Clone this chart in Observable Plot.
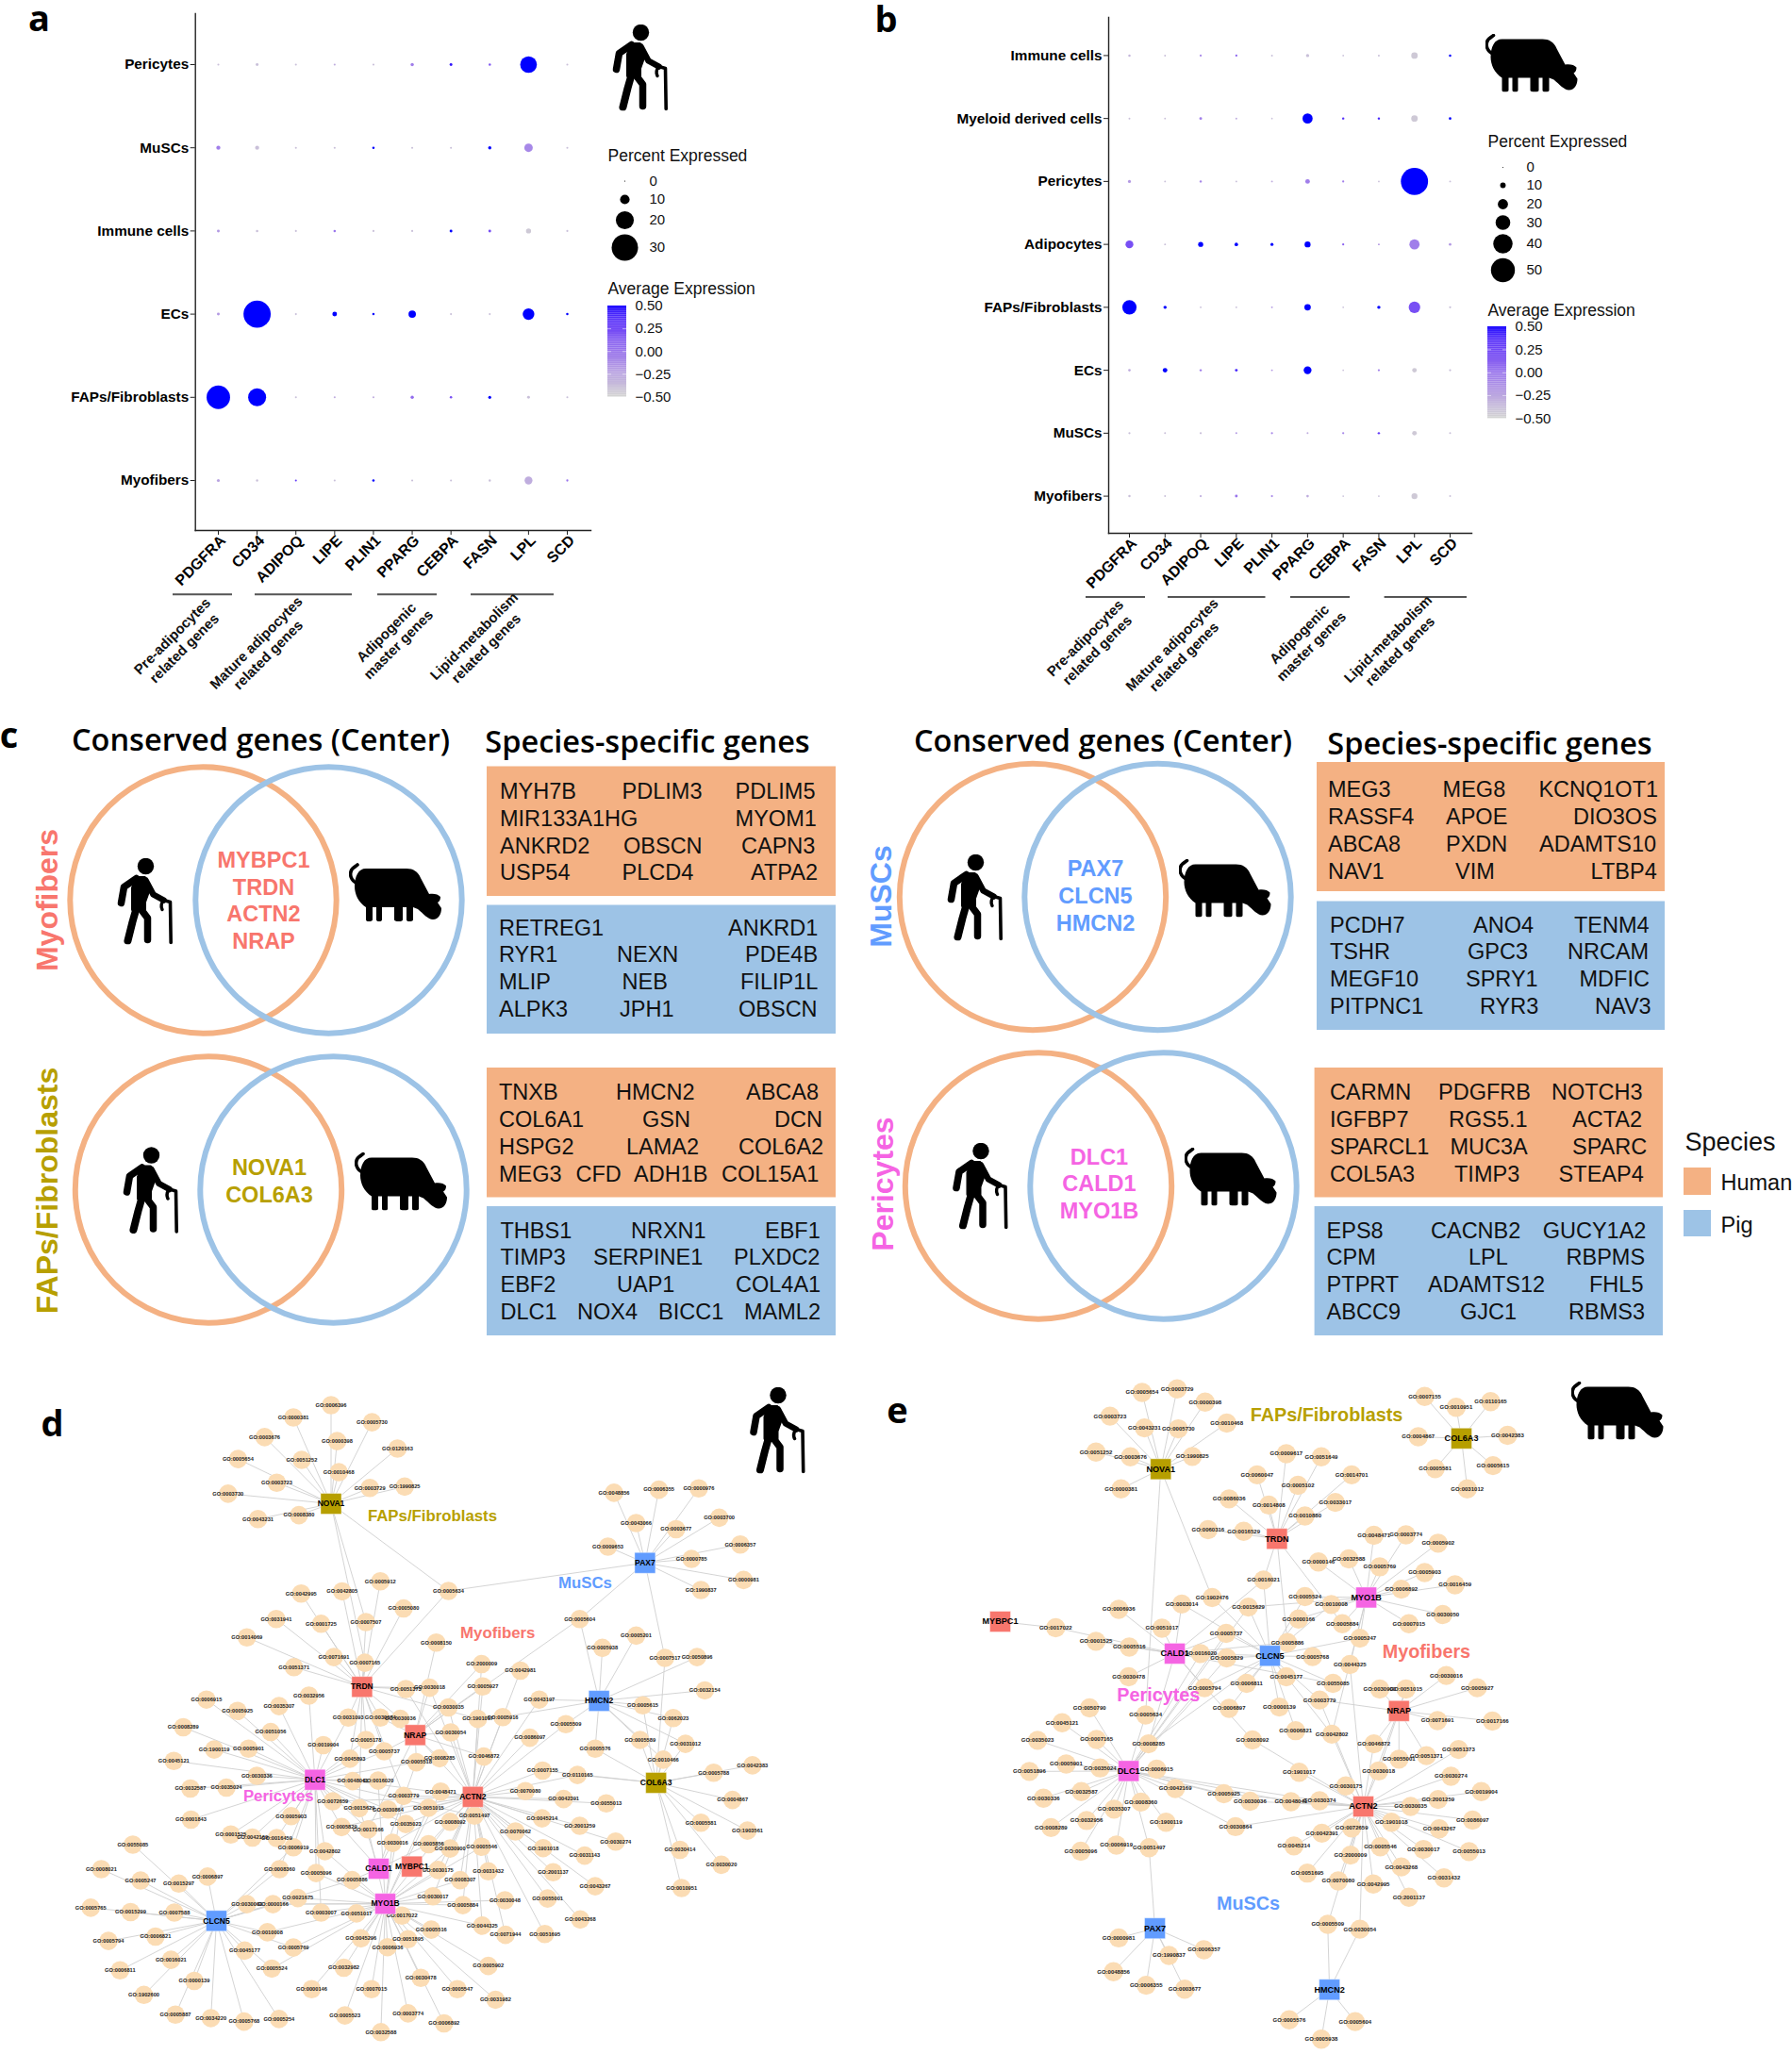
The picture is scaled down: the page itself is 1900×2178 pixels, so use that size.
<!DOCTYPE html>
<html><head><meta charset="utf-8">
<script src="https://cdn.jsdelivr.net/npm/d3@7"></script>
<script src="https://cdn.jsdelivr.net/npm/@observablehq/plot@0.6"></script>
<style>body{margin:0;background:#fff}#page{position:relative;width:1900px;height:2178px;overflow:hidden}</style>
</head><body><div id="page"></div>
<script>
// ---------- panel a / b dot plot data ----------
const genes=["PDGFRA","CD34","ADIPOQ","LIPE","PLIN1","PPARG","CEBPA","FASN","LPL","SCD"];
const cellsA=["Pericytes","MuSCs","Immune cells","ECs","FAPs/Fibroblasts","Myofibers"];
const pctA=[
[1,2,1,1,1,2.5,2,1.5,18.5,1],
[3.5,3.5,1,1,1.5,1,1,2.5,8.7,1],
[2,1.5,1,1.5,1,1,2,2,4.7,1],
[2,31,1,4.2,1.5,7.5,1,1,12.5,1.5],
[26.5,20,1,1,1,2.5,1.5,2.2,2,1],
[2.2,1.3,1,1,1.5,1,1,1.3,8,1.2]];
const exprA=[
[-.4,-.4,-.4,-.3,-.4,-.05,.45,.15,.5,-.4],
[-.05,-.4,-.4,-.4,.5,-.4,-.4,.5,-.1,-.4],
[-.2,-.4,-.4,0,-.4,-.4,.5,.2,-.45,-.4],
[-.2,.5,-.4,.5,.5,.5,-.4,-.4,.5,.5],
[.5,.5,-.4,-.3,-.3,.05,.2,.5,-.4,-.4],
[-.25,-.4,.3,-.4,.5,-.4,-.4,-.4,-.3,0]];
const cellsB=["Immune cells","Myeloid derived cells","Pericytes","Adipocytes","FAPs/Fibroblasts","ECs","MuSCs","Myofibers"];
const pctB=[
[3,2,2.5,2.5,2,5,1.5,2,12,3],
[2,1.8,4,2,1.5,20,3,3,12,3.5],
[4.5,1.8,3,1.8,2,8,2.5,1.5,57,2],
[15,2,9,5.5,4.5,11,2.5,2,20,3.5],
[29,5,2,2,2,12,1.5,5,23,2.5],
[3.5,8,3,4,2,15,1.5,2.5,8,2.5],
[2.5,2,2.5,2,2.5,2,2.5,3,8,2],
[3,2,2.5,4,2.5,3.5,1.5,1.8,11,2]];
const exprB=[
[-.35,-.4,-.1,.1,-.4,-.4,-.4,-.4,-.45,.5],
[-.4,-.4,-.05,-.3,-.4,.5,.35,.4,-.45,.5],
[-.2,-.4,-.1,-.4,-.3,-.05,-.05,-.4,.5,-.4],
[.2,-.4,.5,.5,.5,.5,.1,-.2,-.05,-.2],
[.5,.5,-.4,-.4,-.2,.5,-.4,.5,.2,-.4],
[-.3,.5,-.05,.4,-.2,.5,-.4,-.05,-.45,-.4],
[-.4,-.4,-.4,-.2,-.1,-.3,-.1,.3,-.45,-.4],
[-.4,-.4,-.3,0,-.1,-.3,-.4,-.4,-.45,-.4]];
const legendPctA=[0,10,20,30];
const legendPctB=[0,10,20,30,40,50];
const legendExpr=[-.5,-.25,0,.25,.5];
const groupNames=["Pre-adipocytes\nrelated genes","Mature adipocytes\nrelated genes","Adipogenic\nmaster genes","Lipid-metabolism\nrelated genes"];

// ---------- panel c gene lists ----------
const myoHuman=[["MYH7B","PDLIM3","PDLIM5"],["MIR133A1HG","MYOM1"],["ANKRD2","OBSCN","CAPN3"],["USP54","PLCD4","ATPA2"]];
const myoPig=[["RETREG1","ANKRD1"],["RYR1","NEXN","PDE4B"],["MLIP","NEB","FILIP1L"],["ALPK3","JPH1","OBSCN"]];
const fapHuman=[["TNXB","HMCN2","ABCA8"],["COL6A1","GSN","DCN"],["HSPG2","LAMA2","COL6A2"],["MEG3","CFD","ADH1B","COL15A1"]];
const fapPig=[["THBS1","NRXN1","EBF1"],["TIMP3","SERPINE1","PLXDC2"],["EBF2","UAP1","COL4A1"],["DLC1","NOX4","BICC1","MAML2"]];
const muscHuman=[["MEG3","MEG8","KCNQ1OT1"],["RASSF4","APOE","DIO3OS"],["ABCA8","PXDN","ADAMTS10"],["NAV1","VIM","LTBP4"]];
const muscPig=[["PCDH7","ANO4","TENM4"],["TSHR","GPC3","NRCAM"],["MEGF10","SPRY1","MDFIC"],["PITPNC1","RYR3","NAV3"]];
const periHuman=[["CARMN","PDGFRB","NOTCH3"],["IGFBP7","RGS5.1","ACTA2"],["SPARCL1","MUC3A","SPARC"],["COL5A3","TIMP3","STEAP4"]];
const periPig=[["EPS8","CACNB2","GUCY1A2"],["CPM","LPL","RBPMS"],["PTPRT","ADAMTS12","FHL5"],["ABCC9","GJC1","RBMS3"]];
const conservedMyo=["MYBPC1","TRDN","ACTN2","NRAP"];
const conservedFap=["NOVA1","COL6A3"];
const conservedMusc=["PAX7","CLCN5","HMCN2"];
const conservedPeri=["DLC1","CALD1","MYO1B"];

// ---------- panel d / e networks: hub name, layout x, layout y ----------
const hubKeys={N:"NOVA1",P:"PAX7",T:"TRDN",R:"NRAP",H:"HMCN2",C:"COL6A3",A:"ACTN2",D:"DLC1",K:"CALD1",M:"MYBPC1",Y:"MYO1B",L:"CLCN5"};
const hubGroup={NOVA1:"FAPs/Fibroblasts",COL6A3:"FAPs/Fibroblasts",PAX7:"MuSCs",CLCN5:"MuSCs",HMCN2:"MuSCs",TRDN:"Myofibers",NRAP:"Myofibers",ACTN2:"Myofibers",MYBPC1:"Myofibers",DLC1:"Pericytes",CALD1:"Pericytes",MYO1B:"Pericytes"};
const netDHubs=[["NOVA1",597,310],["PAX7",1164,445],["TRDN",653,728],["HMCN2",1081,760],["NRAP",749,838],["DLC1",568,940],["COL6A3",1184,947],["ACTN2",853,979],["CALD1",683,1143],["MYBPC1",743,1138],["MYO1B",695,1223],["CLCN5",390,1262]];
const netDGroups=[["FAPs/Fibroblasts",780,339],["MuSCs",1056,491],["Myofibers",898,606],["Pericytes",502,978]];
const netDNodes=[
["GO:0006396",597,85,"N"],["GO:0000381",529,113,"N"],["GO:0005730",671,124,"N"],["GO:0003676",477,158,"N"],["GO:0000398",608,167,"N"],["GO:0120163",717,184,"N"],["GO:0005654",429,208,"N"],["GO:0051252",544,210,"N"],["GO:0010468",611,238,"N"],["GO:0003723",499,262,"N"],["GO:0003729",667,274,"N"],["GO:1990825",730,271,"N"],["GO:0003730",411,287,"N"],["GO:0008380",539,336,"N"],["GO:0043231",465,345,"N"],
["GO:0048856",1108,285,"P"],["GO:0006355",1189,278,"P"],["GO:0000976",1261,275,"P"],["GO:0003700",1298,342,"P"],["GO:0043066",1148,354,"P"],["GO:0003677",1220,368,"P"],["GO:0006357",1336,403,"P"],["GO:0009653",1097,408,"P"],["GO:0000785",1248,436,"P"],["GO:0000981",1342,484,"P"],["GO:1990837",1265,507,"P"],["GO:0005634",809,509,"NPT"],
["GO:0005912",686,487,"T"],["GO:0042995",543,515,"T"],["GO:0042805",617,510,"T"],["GO:0005080",728,549,"T"],["GO:0031941",498,573,"T"],["GO:0001725",579,584,"T"],["GO:0007507",660,580,"TN"],["GO:0014069",445,615,"T"],["GO:0071691",602,660,"T"],["GO:0007165",658,673,"TN"],["GO:0051371",530,683,"T"],["GO:0008150",787,627,"R"],
["GO:2000009",869,676,"AR"],["GO:0042981",939,691,"A"],["GO:0005604",1046,573,"PHR"],["GO:0005201",1148,611,"H"],["GO:0005938",1087,639,"H"],["GO:0007517",1200,662,"PC"],["GO:0050896",1258,660,"H"],["GO:0032154",1272,736,"H"],["GO:0005615",1160,770,"HC"],["GO:0062023",1215,799,"HC"],["GO:0005589",1155,849,"HC"],["GO:0031012",1237,858,"HC"],["GO:0010466",1197,894,"HC"],["GO:0005576",1074,869,"HC"],
["GO:0005788",1288,924,"C"],["GO:0042383",1358,907,"C"],["GO:0004867",1322,986,"C"],["GO:0005581",1265,1038,"C"],["GO:1903561",1349,1056,"C"],["GO:0030414",1227,1100,"C"],["GO:0030020",1302,1134,"C"],["GO:0010951",1230,1187,"C"],["GO:0055013",1094,994,"A"],["GO:0042391",1017,984,"A"],["GO:0070080",948,966,"A"],["GO:0110165",1042,929,"AC"],["GO:0007155",979,919,"AC"],["GO:0086097",956,844,"A"],["GO:0005509",1021,813,"HA"],["GO:0005916",907,797,"HA"],["GO:1901017",862,801,"AT"],["GO:0043197",973,757,"AH"],["GO:0005927",871,727,"AR"],["GO:0030018",775,730,"ART"],["GO:0051373",732,733,"TA"],["GO:0030035",809,775,"AR"],["GO:0030054",813,832,"RA"],["GO:0046872",873,887,"AR"],["GO:0008285",793,891,"RD"],
["GO:0031093",628,798,"TD"],["GO:0030674",686,798,"TR"],["GO:0030036",722,801,"TRA"],["GO:0006915",372,757,"D"],["GO:0005925",428,783,"D"],["GO:0035307",503,772,"D"],["GO:0032956",557,748,"D"],["GO:0008289",330,820,"D"],["GO:0051056",488,831,"D"],["GO:0005178",660,849,"TD"],["GO:0019904",583,861,"D"],["GO:1900119",386,871,"D"],["GO:0005901",448,869,"D"],["GO:0045121",313,897,"D"],["GO:0045893",631,892,"DT"],["GO:0005737",693,875,"DTR"],["GO:0005518",751,900,"RK"],["GO:0030336",463,931,"D"],["GO:0048041",636,943,"DA"],["GO:0016020",682,942,"DY"],["GO:0032587",343,960,"D"],["GO:0035024",408,958,"D"],["GO:0003779",728,977,"ATY"],["GO:0048471",795,967,"AY"],
["GO:0072659",600,989,"DA"],["GO:0015629",648,1005,"DTK"],["GO:0030864",700,1008,"DA"],["GO:0051015",773,1004,"AY"],["GO:0051497",856,1022,"AD"],["GO:0001843",344,1031,"D"],["GO:0005903",525,1023,"D"],["GO:0035023",732,1041,"AD"],["GO:0008092",812,1036,"AY"],["GO:0045214",978,1028,"A"],["GO:2001259",1046,1045,"A"],["GO:0070062",930,1058,"A"],["GO:0005829",616,1048,"DKA"],["GO:0017166",664,1053,"DYR"],["GO:0001525",416,1065,"D"],["GO:0042169",455,1072,"D"],["GO:0016459",499,1073,"D"],["GO:0030016",708,1084,"AYK"],["GO:0005856",773,1087,"AK"],["GO:0030900",812,1097,"AY"],["GO:0005546",869,1093,"AY"],["GO:0006919",529,1094,"DL"],["GO:0042802",586,1103,"DY"],["GO:0030274",1111,1081,"A"],["GO:1901018",980,1096,"A"],["GO:0031143",1055,1113,"A"],["GO:0008360",504,1144,"DL"],["GO:0005096",570,1153,"DY"],["GO:0030175",790,1146,"AY"],["GO:0031432",881,1149,"A"],["GO:2001137",998,1151,"A"],["GO:0008307",830,1169,"AY"],["GO:0005886",635,1169,"YKL"],["GO:0043267",1074,1183,"A"],
["GO:0055085",239,1088,"L"],["GO:0006897",374,1161,"L"],["GO:0008021",182,1144,"L"],["GO:0005247",253,1170,"L"],["GO:0015297",322,1177,"L"],["GO:0030017",781,1206,"AY"],["GO:0021675",537,1210,"LY"],["GO:0005884",835,1226,"YA"],["GO:0030048",911,1215,"Y"],["GO:0055001",988,1211,"A"],["GO:0030003",445,1224,"LY"],["GO:0000166",492,1224,"LY"],["GO:0005765",163,1232,"L"],["GO:0015299",235,1242,"L"],["GO:0007588",314,1243,"L"],["GO:0003007",579,1243,"DY"],["GO:0051017",643,1245,"Y"],["GO:0017022",725,1250,"Y"],["GO:0043268",1047,1259,"A"],["GO:0044325",870,1273,"AY"],["GO:0005516",778,1282,"Y"],["GO:0010008",482,1288,"LY"],["GO:0006821",280,1298,"L"],["GO:0005794",195,1308,"L"],["GO:0071944",912,1294,"A"],["GO:0051695",983,1292,"A"],["GO:0045296",651,1302,"Y"],["GO:0051895",736,1304,"Y"],["GO:0006936",699,1322,"Y"],["GO:0045177",441,1330,"L"],["GO:0005769",529,1323,"LY"],["GO:0016021",308,1351,"L"],["GO:0005524",490,1371,"LY"],["GO:0005902",881,1365,"Y"],["GO:0032982",620,1369,"Y"],["GO:0006811",216,1375,"L"],["GO:0000139",350,1399,"L"],["GO:0030478",759,1392,"Y"],["GO:0000146",562,1418,"Y"],["GO:0007015",670,1418,"Y"],["GO:0005547",825,1418,"Y"],["GO:1902600",259,1431,"L"],["GO:0031982",894,1442,"Y"],["GO:0005887",316,1476,"L"],["GO:0034220",380,1484,"L"],["GO:0005768",440,1492,"L"],["GO:0005254",503,1486,"L"],["GO:0005523",622,1478,"Y"],["GO:0003774",736,1473,"Y"],["GO:0006892",801,1496,"Y"],["GO:0032588",687,1516,"Y"]];

const netEHubs=[["NOVA1",485,231],["COL6A3",1000,161],["TRDN",684,390],["MYO1B",837,524],["MYBPC1",210,579],["CALD1",509,652],["CLCN5",672,657],["NRAP",893,783],["DLC1",430,920],["ACTN2",832,1001],["PAX7",475,1279],["HMCN2",774,1419]];
const netEGroups=[["FAPs/Fibroblasts",769,109],["Myofibers",940,649],["Pericytes",481,748],["MuSCs",635,1222]];
const netENodes=[
["GO:0005654",453,56,"N"],["GO:0003729",513,48,"N"],["GO:0000398",561,78,"N"],["GO:0003723",398,110,"N"],["GO:0010468",598,126,"N"],["GO:0043231",457,137,"N"],["GO:0005730",515,139,"N"],["GO:0051252",374,192,"N"],["GO:0003676",433,203,"N"],["GO:1990825",539,202,"N"],["GO:0000381",417,276,"N"],
["GO:0007155",937,65,"C"],["GO:0110165",1050,77,"C"],["GO:0010951",991,90,"C"],["GO:0004867",926,157,"C"],["GO:0042383",1079,154,"C"],["GO:0005581",955,230,"C"],["GO:0005615",1054,223,"C"],["GO:0031012",1010,276,"C"],
["GO:0009617",700,196,"T"],["GO:0051649",760,203,"T"],["GO:0060047",650,244,"T"],["GO:0014701",812,244,"T"],["GO:0005102",720,268,"T"],["GO:0086036",602,299,"T"],["GO:0014808",670,313,"T"],["GO:0033017",784,307,"T"],["GO:0010880",732,338,"T"],["GO:0060316",566,369,"T"],["GO:0016529",627,373,"T"],
["GO:0048471",850,382,"Y"],["GO:0003774",905,381,"Y"],["GO:0005902",960,400,"Y"],["GO:0000146",755,443,"Y"],["GO:0032588",807,436,"Y"],["GO:0005769",860,454,"Y"],["GO:0005903",937,467,"Y"],["GO:0016459",989,495,"Y"],["GO:0006892",897,505,"Y"],["GO:0030050",968,563,"Y"],["GO:0007015",910,584,"Y"],["GO:0005524",732,522,"YL"],["GO:0010008",777,540,"YL"],["GO:0016021",661,484,"TKL"],
["GO:0017022",305,593,"MK"],["GO:0001525",374,624,"K"],["GO:0005516",431,637,"K"],["GO:0006936",413,551,"K"],["GO:0051017",487,594,"K"],["GO:0003014",521,539,"LK"],["GO:1902476",573,524,"NL"],["GO:0015629",635,546,"LDY"],["GO:0005737",597,606,"LKD"],["GO:0016020",553,652,"LKD"],["GO:0005829",598,662,"LKD"],["GO:0030478",430,705,"K"],["GO:0005794",560,730,"LKD"],["GO:0000166",721,573,"YL"],["GO:0005884",796,584,"TY"],["GO:0006811",632,720,"L"],["GO:0045177",700,705,"L"],["GO:0005886",702,627,"TLK"],["GO:0005247",826,617,"YL"],["GO:0005768",745,659,"L"],["GO:0044325",809,677,"YA"],["GO:0055085",780,720,"LK"],["GO:0003779",757,758,"RLA"],["GO:0006897",602,777,"L"],["GO:0000139",688,774,"L"],["GO:0006821",716,828,"L"],["GO:0042802",778,836,"LAY"],["GO:0008092",642,849,"AK"],
["GO:0030016",974,702,"R"],["GO:0005927",1027,730,"R"],["GO:0051015",905,733,"RA"],["GO:0030900",860,733,"R"],["GO:0071691",959,805,"R"],["GO:0017166",1053,806,"R"],["GO:0046872",850,858,"RA"],["GO:0055001",893,893,"R"],["GO:0051371",940,885,"R"],["GO:0051373",995,871,"A"],["GO:0030018",858,920,"RA"],["GO:1901017",722,923,"A"],["GO:0030175",802,954,"A"],["GO:0030274",982,932,"A"],["GO:0019904",1034,967,"A"],["GO:2001259",960,985,"A"],
["GO:0030374",757,988,"DA"],["GO:0048041",708,990,"DA"],["GO:0030036",638,989,"DA"],["GO:0005925",593,972,"DA"],["GO:0030864",613,1047,"DA"],["GO:0030035",913,1001,"A"],["GO:0072659",812,1050,"A"],["GO:1901018",880,1037,"A"],["GO:0086097",1019,1032,"A"],["GO:0043267",962,1052,"A"],["GO:0042391",761,1062,"A"],["GO:0045214",713,1091,"A"],["GO:0005546",861,1093,"A"],["GO:0030017",935,1099,"A"],["GO:0055013",1013,1104,"A"],["GO:2000009",810,1112,"A"],["GO:0043268",897,1139,"A"],["GO:0031432",970,1164,"A"],["GO:0051695",736,1153,"A"],["GO:0070080",789,1171,"A"],["GO:0042995",849,1178,"A"],["GO:2001137",910,1208,"A"],
["GO:0050790",363,776,"D"],["GO:0045121",316,810,"D"],["GO:0005634",459,792,"ND"],["GO:0035023",274,850,"D"],["GO:0007165",375,848,"D"],["GO:0008285",464,858,"DKL"],["GO:0005901",323,904,"D"],["GO:0035024",381,913,"D"],["GO:0006915",478,916,"D"],["GO:0051896",260,921,"D"],["GO:0042169",510,960,"D"],["GO:0032587",349,967,"D"],["GO:0030336",284,982,"D"],["GO:0008360",451,991,"D"],["GO:0035307",405,1007,"D"],["GO:1900119",494,1037,"D"],["GO:0032956",358,1033,"D"],["GO:0008289",297,1049,"D"],["GO:0006919",409,1089,"D"],["GO:0051497",465,1095,"DP"],["GO:0005096",348,1103,"D"],
["GO:0000981",413,1301,"P"],["GO:0006357",559,1328,"P"],["GO:1990837",499,1341,"P"],["GO:0048856",404,1378,"P"],["GO:0006355",460,1409,"P"],["GO:0003677",526,1418,"P"],
["GO:0005509",771,1270,"HA"],["GO:0030054",826,1281,"HA"],["GO:0005576",705,1488,"H"],["GO:0005604",818,1492,"H"],["GO:0005938",760,1532,"H"]];

// ---------- styles ----------
const groupColor={"Myofibers":"#F8766D","FAPs/Fibroblasts":"#B79F00","MuSCs":"#619CFF","Pericytes":"#F564E3"};
const humanCol="#F4B183", pigCol="#9DC3E6";
const sans='"Liberation Sans",Arial,sans-serif';
const head='"Open Sans",sans-serif';
const page=document.getElementById("page");
const place=(svg)=>{page.appendChild(svg);return svg;};

// ---------- icons ----------
const personSvg=`<svg xmlns="http://www.w3.org/2000/svg" viewBox="0 0 61 92"><g fill="none" stroke="#000" stroke-linecap="round" stroke-linejoin="round"><circle cx="31" cy="9" r="8.7" fill="#000" stroke="none"/><path d="M21 22L8 31L5 48" stroke-width="7.5"/><path d="M21 21L30 21L35 33L30 47L30 55L17 55L17 32Z" fill="#000" stroke-width="3"/><path d="M21 54L17 68L12 88" stroke-width="8"/><path d="M24 52L33 64L33 87" stroke-width="7.5"/><path d="M31 24L39 39L50 45" stroke-width="6.5"/><path d="M50 45Q46 50 48.5 55" stroke-width="3.5"/><path d="M50 45L57 47L57.7 90" stroke-width="3.6"/></g></svg>`;
const pigSvg=`<svg xmlns="http://www.w3.org/2000/svg" viewBox="0 0 99 62"><path d="M9 22C2 19 0 12 3 7C4 5 7 4 9 2" fill="none" stroke="#000" stroke-width="3.6" stroke-linecap="round"/><path d="M18 6L61 6C68 6 73 9 76 16L85 33C89 32 95 33 97 36C97 39 96 41 94 42L98 48C98 54 95 60 89 60C84 60 79 54 73 49L68 47L68 60Q68 62 64 62Q61 62 61 60L61 47L57 47L57 60Q57 62 53 62Q48 62 48 60L48 47L35 47L35 60Q35 62 32 62Q29 62 29 60L29 47L25 47L25 60Q25 62 21 62Q18 62 18 60L18 47C10 42 6 33 6 25C6 14 10 6 18 6Z" fill="#000"/></svg>`;
const uri=s=>"data:image/svg+xml;charset=utf-8,"+encodeURIComponent(s);
const personUri=uri(personSvg), pigUri=uri(pigSvg);

// ---------- layout layer (headings, panel c, legends' titles, icons) ----------
const W=1900,H=2178;
const persons=[[678.5,71],[153.5,955],[159.5,1261.5],[1033.5,951],[1039,1257],[824,1516]];
const pigs=[[1623.5,66],[419,945.5],[425,1252],[1298.5,941],[1304.5,1247],[1714.5,1495]];
const letters=[["a",41,20],["b",939,21],["c",9,780],["d",55,1510],["e",951,1496]];
const headings=[["Conserved genes (Center)",276,785],["Species-specific genes",686,787],["Conserved genes (Center)",1169,786],["Species-specific genes",1579,789]];
const sideLabels=[["Myofibers",50,954],["FAPs/Fibroblasts",50,1262],["MuSCs",934,950],["Pericytes",936,1255]];
const vennH=[[215,954,"h"],[220.5,1261,"h"],[1094.5,950.5,"h"],[1100.5,1257,"h"]];
const vennP=[[348,954,"p"],[353,1261,"p"],[1227,950.5,"p"],[1233,1257,"p"]];
const boxes=[
 {x1:516,x2:886,y1:812.5,y2:950,c:humanCol,g:myoHuman,ys:[839,868,896.5,925],xs:[[531,660.6,780.6],[531,780.6],[531,662,787],[531,660.6,797]]},
 {x1:516,x2:886,y1:959.5,y2:1096,c:pigCol,g:myoPig,ys:[983.6,1012,1041,1070],xs:[[530,773],[530,655,791],[530,660.6,786],[530,658,784]]},
 {x1:516,x2:886,y1:1132,y2:1269.5,c:humanCol,g:fapHuman,ys:[1158,1187,1216,1245],xs:[[530,654,792],[530,682,822],[530,665,784],[530,611.5,673,766]]},
 {x1:516,x2:886,y1:1279,y2:1416,c:pigCol,g:fapPig,ys:[1305,1333,1362,1391],xs:[[531.5,670,812],[531.5,630,779],[531.5,655,781],[531.5,613,699,790]]},
 {x1:1396,x2:1765,y1:808,y2:945,c:humanCol,g:muscHuman,ys:[837,866,895,924],xs:[[1409,1530.6,1632.4],[1409,1534,1669],[1409,1534,1633],[1409,1544,1687.6]]},
 {x1:1396,x2:1765,y1:955.5,y2:1092,c:pigCol,g:muscPig,ys:[980.5,1009,1038,1067],xs:[[1411,1563,1670],[1411,1557,1663],[1411,1555,1675.5],[1411,1570,1692]]},
 {x1:1393.6,x2:1763,y1:1132,y2:1269.5,c:humanCol,g:periHuman,ys:[1158,1187,1216,1245],xs:[[1411,1526,1646],[1411,1537,1668],[1411,1538.5,1668],[1411,1543,1653.6]]},
 {x1:1393.6,x2:1763,y1:1279,y2:1416,c:pigCol,g:periPig,ys:[1305,1333,1362,1391],xs:[[1407.6,1518,1636.7],[1407.6,1558,1661.5],[1407.6,1515,1686],[1407.6,1549,1664]]}];
const geneTexts=boxes.flatMap(b=>b.g.flatMap((row,i)=>row.map((t,j)=>({t,x:b.xs[i][j],y:b.ys[i]}))));
const centres=[
 [conservedMyo,279,[912,941,969,998],"Myofibers"],
 [conservedFap,285,[1238,1267],"FAPs/Fibroblasts"],
 [conservedMusc,1161,[920.6,949.6,978.7],"MuSCs"],
 [conservedPeri,1165,[1226.5,1255,1284],"Pericytes"]].flatMap(([g,x,ys,k])=>g.map((t,i)=>({t,x,y:ys[i],c:groupColor[k]})));
const groupLines=[[183,246,629.7],[270,373,629.7],[400,463,629.7],[499,587,629.7],[1151,1214,632.5],[1238,1341.5,632.5],[1368,1431,632.5],[1467.6,1555,632.5]];
const groupLabelPos=[[188,680],[277,687],[415,676],[508,680],[1156,682],[1248,689],[1383,678],[1477,683]];
const legendTitles=[["Percent Expressed",644,165],["Average Expression",644,306],["Percent Expressed",1577,150],["Average Expression",1577,329]];

place(Plot.plot({
  width:W,height:H,margin:0,
  x:{domain:[0,W],range:[0,W],axis:null},y:{domain:[0,H],range:[0,H],axis:null},
  style:{position:"absolute",left:"0px",top:"0px",background:"transparent",fontFamily:sans},
  marks:[
    Plot.rect(boxes,{x1:"x1",x2:"x2",y1:"y1",y2:"y2",fill:"c"}),
    Plot.dot(vennH,{x:"0",y:"1",r:141.2,stroke:humanCol,strokeWidth:6,fill:"none"}),
    Plot.dot(vennP,{x:"0",y:"1",r:141.2,stroke:pigCol,strokeWidth:6,fill:"none"}),
    Plot.text(geneTexts,{x:"x",y:"y",dx:-1.5,text:"t",textAnchor:"start",fontSize:23.5,fill:"#111"}),
    Plot.text(centres,{x:"x",y:"y",text:"t",fontSize:23.5,fontWeight:"bold",fill:"c"}),
    Plot.text(headings,{x:"1",y:"2",text:"0",fontFamily:head,fontWeight:600,fontSize:32.5,fill:"#000"}),
    Plot.text(sideLabels,{x:"1",y:"2",text:"0",rotate:-90,fontSize:32,fontWeight:"bold",fill:d=>groupColor[d[0]]}),
    Plot.text(letters,{x:"1",y:"2",text:"0",fontFamily:head,fontWeight:700,fontSize:38,fill:"#000"}),
    Plot.ruleY(groupLines,{x1:"0",x2:"1",y:"2",stroke:"#555",strokeWidth:2}),
    Plot.text(groupLabelPos,{x:"0",y:"1",text:(d,i)=>groupNames[i%4],rotate:-45,fontSize:15,fontWeight:"bold",lineHeight:1.2,fill:"#111"}),
    Plot.text(legendTitles,{x:"1",y:"2",text:"0",textAnchor:"start",fontSize:17.5,fill:"#111"}),
    Plot.image(persons,{x:"0",y:"1",width:61,height:92,src:()=>personUri,preserveAspectRatio:"none"}),
    Plot.image(pigs,{x:"0",y:"1",width:99,height:62,src:()=>pigUri,preserveAspectRatio:"none"}),
    // species legend
    Plot.text(["Species"],{x:()=>1786,y:()=>1211,text:d=>d,textAnchor:"start",fontSize:27,fill:"#111"}),
    Plot.rect([["Human",1238,1267],["Pig",1283,1311]],{x1:()=>1785,x2:()=>1814,y1:"1",y2:"2",fill:d=>d[0]==="Human"?humanCol:pigCol}),
    Plot.text([["Human",1254],["Pig",1299]],{x:()=>1824,y:"1",text:"0",textAnchor:"start",fontSize:23.5,fill:"#111"})
  ]
}));

// ---------- dot plots ----------
function dotPlot(o){
  const data=o.cells.flatMap((c,i)=>genes.map((g,j)=>({cell:c,gene:g,pct:o.pct[i][j],expr:o.expr[i][j]})));
  return place(Plot.plot({
    width:o.w,height:o.h,marginLeft:o.axisX,marginRight:o.w-o.right,marginTop:o.top,marginBottom:o.h-o.bottom,
    style:{position:"absolute",left:o.left+"px",top:"0px",background:"transparent",fontFamily:sans,overflow:"visible"},
    x:{type:"point",domain:genes,range:o.xr,padding:0,round:false,axis:null},
    y:{type:"point",domain:o.cells,range:o.yr,padding:0,round:false,axis:null},
    r:{type:"linear",domain:o.rd,range:o.rr},
    color:{type:"linear",domain:[-.5,.5],range:["lightgrey","blue"],interpolate:d3.interpolateLab,clamp:true},
    marks:[
      Plot.frame({anchor:"left",stroke:"#222",strokeWidth:1.4}),
      Plot.frame({anchor:"bottom",stroke:"#222",strokeWidth:1.4}),
      Plot.axisY({label:null,tickSize:5,tickPadding:2,fontSize:15.3,fontWeight:"bold",fill:"#000",stroke:"#222"}),
      Plot.axisX({label:null,text:null,tickSize:5,stroke:"#222"}),
      Plot.axisX({label:null,tickSize:0,tickPadding:8,dx:5,tickRotate:-45,fontSize:16,fontWeight:"bold",fill:"#000"}),
      Plot.dot(data,{x:"gene",y:"cell",r:"pct",fill:"expr",sort:{channel:"r",order:"descending"}})
    ]
  }));
}
dotPlot({cells:cellsA,pct:pctA,expr:exprA,left:0,w:640,h:760,axisX:206.7,right:626,top:14,bottom:562,xr:[231,601],yr:[68,509],rd:[0,30],rr:[.6,14]});
dotPlot({cells:cellsB,pct:pctB,expr:exprB,left:950,w:620,h:760,axisX:225,right:610,top:18,bottom:565,xr:[247,587],yr:[58.4,525.6],rd:[0,50],rr:[.5,12.7]});

// ---------- legends ----------
function sizeLegendRows(o){
  place(Plot.plot({
    width:o.w,height:o.h,margin:0,
    style:{position:"absolute",left:o.left+"px",top:o.top+"px",background:"transparent",fontFamily:sans},
    x:{domain:[0,o.w],range:[0,o.w],axis:null},
    y:{domain:[0,o.h],range:[0,o.h],axis:null},
    r:{type:"linear",domain:o.rd,range:o.rr},
    marks:[
      Plot.dot(o.values,{x:()=>o.cx,y:(d,i)=>o.ys[i],r:d=>d,fill:"#000"}),
      Plot.text(o.values,{x:()=>o.tx,y:(d,i)=>o.ys[i],text:d=>String(d),textAnchor:"start",fontSize:15,fill:"#111"})
    ]
  }));
}
sizeLegendRows({values:legendPctA,left:640,top:170,w:120,h:110,cx:22,tx:48,ys:[21.5,41,63,92],rd:[0,30],rr:[.6,14]});
sizeLegendRows({values:legendPctB,left:1573,top:160,w:120,h:145,cx:20,tx:45,ys:[17,36,56,75.5,98,126],rd:[0,50],rr:[.5,12.7]});

function colorBar(left,top,h){
  const steps=d3.range(0,50).map(i=>-.5+i*.02);
  place(Plot.plot({
    width:80,height:h+20,marginLeft:0,marginRight:60,marginTop:10,marginBottom:10,
    style:{position:"absolute",left:left+"px",top:(top-10)+"px",background:"transparent",fontFamily:sans},
    x:{domain:[0,5],axis:null},
    y:{domain:[-.5,.5],axis:null},
    color:{type:"linear",domain:[-.5,.5],range:["lightgrey","blue"],interpolate:d3.interpolateLab},
    marks:[
      Plot.rect(steps,{x1:()=>0,x2:()=>5,y1:d=>d,y2:d=>d+.0205,fill:d=>d}),
      Plot.ruleY(legendExpr.slice(1,4),{x1:()=>0,x2:()=>1,stroke:"#fff",strokeOpacity:.5}),
      Plot.ruleY(legendExpr.slice(1,4),{x1:()=>4,x2:()=>5,stroke:"#fff",strokeOpacity:.5}),
      Plot.axisY(legendExpr,{anchor:"right",label:null,tickSize:0,tickPadding:9,fontSize:15,fill:"#111",tickFormat:d3.format(".2f")})
    ]
  }));
}
colorBar(644,323.5,96.5);
colorBar(1577,345.6,97.4);

// ---------- networks ----------
function network(o){
  const hubs=new Map(o.hubs.map(h=>[h[0],h]));
  const edges=o.nodes.flatMap(n=>[...n[3]].map(k=>({n,h:hubs.get(hubKeys[k])})));
  place(Plot.plot({
    width:o.w,height:728,margin:0,
    style:{position:"absolute",left:o.left+"px",top:"1450px",background:"transparent",fontFamily:sans},
    x:{domain:[0,1567],range:[0,o.w],axis:null},
    y:{domain:[0,1567],range:[0,728],axis:null},
    marks:[
      Plot.link(edges,{x1:d=>d.n[1],y1:d=>d.n[2],x2:d=>d.h[1],y2:d=>d.h[2],stroke:"#cfcfcf",strokeWidth:.9}),
      Plot.dot(o.nodes,{x:"1",y:"2",r:o.nodeR,fill:"#FBDCB4"}),
      Plot.text(o.nodes,{x:"1",y:"2",text:"0",fontSize:o.goSize,fontWeight:"bold",fill:"#222"}),
      Plot.dot(o.hubs,{x:"1",y:"2",r:12.4,symbol:"square",fill:d=>groupColor[hubGroup[d[0]]],stroke:"#fff",strokeOpacity:.5,strokeWidth:.8}),
      Plot.text(o.hubs,{x:"1",y:"2",text:"0",fontSize:o.hubSize,fontWeight:"bold",fill:"#000"}),
      Plot.text(o.groups,{x:"1",y:"2",text:"0",fontSize:o.groupSize,fontWeight:"bold",fill:d=>groupColor[d[0]]})
    ]
  }));
}
network({hubs:netDHubs,nodes:netDNodes,groups:netDGroups,left:0,w:920,nodeR:9.8,goSize:5.7,hubSize:8.5,groupSize:16.8});
network({hubs:netEHubs,nodes:netENodes,groups:netEGroups,left:930,w:970,nodeR:10.2,goSize:6,hubSize:9.1,groupSize:19.8});
</script></body></html>
